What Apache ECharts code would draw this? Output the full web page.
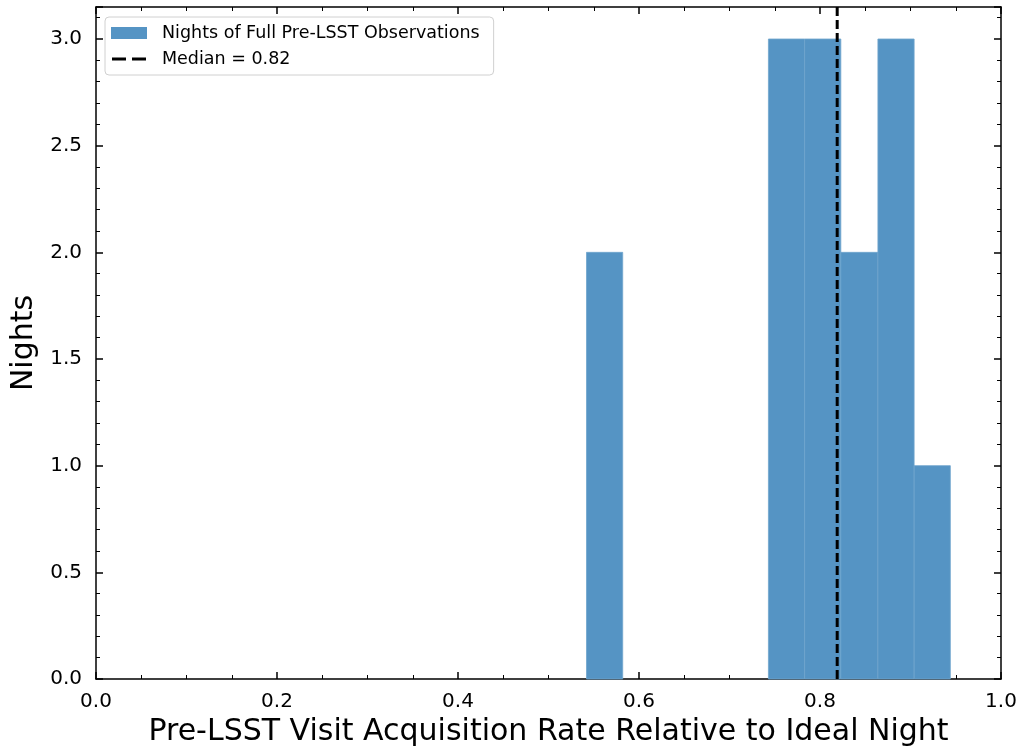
<!DOCTYPE html>
<html>
<head>
<meta charset="utf-8">
<script src="https://cdn.jsdelivr.net/npm/echarts@6/dist/echarts.min.js"></script>
<style>html,body{margin:0;padding:0;background:#fff}#c{width:1020px;height:748px}</style>
</head>
<body>
<div id="c"></div>
<script>
// ---- data ----
const binLeft  = [0.542, 0.582, 0.623, 0.663, 0.703, 0.743, 0.783, 0.823, 0.864, 0.904];
const binRight = [0.582, 0.623, 0.663, 0.703, 0.743, 0.783, 0.823, 0.864, 0.904, 0.944];
const counts   = [2, 0, 0, 0, 0, 3, 3, 2, 3, 1];
const medianValue = 0.819;
const histName = 'Nights of Full Pre-LSST Observations';
const medianName = 'Median = ' + medianValue.toFixed(2);
const xTitle = 'Pre-LSST Visit Acquisition Rate Relative to Ideal Night';
const yTitle = 'Nights';

const histData = binLeft.map((l, i) => [l, binRight[i], counts[i]]);
const font = 'DejaVu Sans';

const chart = echarts.init(document.getElementById('c'), null, {renderer: 'canvas'});

function xAxisCfg(pos, showLabels) {
  return {
    type: 'value', position: pos, min: 0, max: 1, interval: 0.2,
    name: showLabels ? xTitle : '', nameLocation: 'middle', nameGap: 37,
    nameTextStyle: {fontFamily: font, fontSize: 30, color: '#000'},
    axisLine: {show: true, onZero: false, lineStyle: {color: '#000', width: 1.5}},
    axisTick: {show: true, inside: true, length: 7, lineStyle: {color: '#000', width: 1.5}},
    minorTick: {show: true, splitNumber: 4, length: 4, lineStyle: {color: '#000', width: 1}},
    axisLabel: {show: showLabels, fontFamily: font, fontSize: 20, color: '#000', margin: 13,
      formatter: v => v.toFixed(1)},
    splitLine: {show: false}
  };
}
function yAxisCfg(pos, showLabels) {
  return {
    type: 'value', position: pos, min: 0, max: 3.15, interval: 0.5,
    name: showLabels ? yTitle : '', nameLocation: 'middle', nameGap: 55,
    nameTextStyle: {fontFamily: font, fontSize: 30, color: '#000'},
    axisLine: {show: true, onZero: false, lineStyle: {color: '#000', width: 1.5}},
    axisTick: {show: true, inside: true, length: 7, lineStyle: {color: '#000', width: 1.5}},
    minorTick: {show: true, splitNumber: 5, length: 4, lineStyle: {color: '#000', width: 1}},
    axisLabel: {show: showLabels, fontFamily: font, fontSize: 20, color: '#000', margin: 14,
      showMaxLabel: false,
      formatter: v => (Math.abs(v / 0.5 - Math.round(v / 0.5)) < 1e-6 ? v.toFixed(1) : '')},
    splitLine: {show: false}
  };
}

const dashIcon = 'path://M0,0L0.01,0L0,0.01Z M36,12L35.99,12L36,11.99Z M1,4.5h14v3h-14z M21,4.5h14v3h-14z';

chart.setOption({
  animation: false,
  backgroundColor: '#fff',
  grid: {left: 96, right: 19, top: 7, bottom: 69, containLabel: false, outerBoundsMode: 'none'},
  xAxis: [xAxisCfg('bottom', true), xAxisCfg('top', false)],
  yAxis: [yAxisCfg('left', true), yAxisCfg('right', false)],
  legend: {
    orient: 'vertical', left: 105, top: 17,
    backgroundColor: '#fff', borderColor: '#d0d0d0', borderWidth: 1, borderRadius: 4,
    padding: [7, 14, 7, 6], itemGap: 8, itemWidth: 36, itemHeight: 12,
    textStyle: {fontFamily: font, fontSize: 17.5, color: '#000', padding: [0, 0, 0, 10]},
    data: [
      {name: histName, icon: 'rect'},
      {name: medianName, icon: dashIcon, itemStyle: {color: '#000'}}
    ]
  },
  series: [
    {
      name: histName, type: 'custom', xAxisIndex: 0, yAxisIndex: 0,
      itemStyle: {color: '#5594c4'},
      encode: {x: [0, 1], y: 2},
      data: histData,
      renderItem: function (params, api) {
        const h = api.value(2);
        if (!h) return null;
        const p0 = api.coord([api.value(0), 0]);
        const p1 = api.coord([api.value(1), h]);
        return {
          type: 'rect',
          shape: {x: p0[0], y: p1[1], width: p1[0] - p0[0], height: p0[1] - p1[1]},
          style: {fill: '#5594c4', stroke: '#6ea4cd', lineWidth: 0.8}
        };
      }
    },
    {
      name: medianName, type: 'line', xAxisIndex: 0, yAxisIndex: 0,
      symbol: 'none', z: 5,
      lineStyle: {color: '#000', width: 3, type: [9, 4]},
      itemStyle: {color: '#000'},
      data: [[medianValue, 0], [medianValue, 3.15]]
    }
  ]
});
</script>
</body>
</html>
